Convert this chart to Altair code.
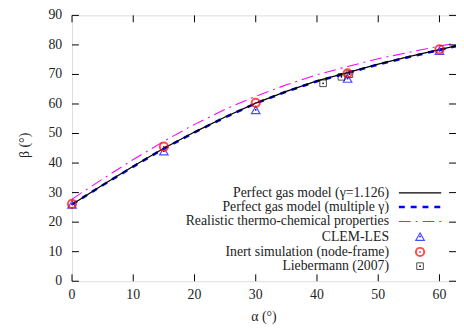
import altair as alt
import pandas as pd

# ---- data ----
alpha_grid = [0, 5, 10, 15, 20, 25, 30, 35, 40, 45, 50, 55, 60, 62.7]
beta_gamma = [26.0, 32.6, 38.9, 45.0, 50.5, 55.6, 60.3, 64.3, 67.8, 70.6, 73.5, 76.0, 78.4, 79.7]
beta_multi = [26.0, 32.5, 38.8, 44.9, 50.4, 55.5, 60.2, 64.2, 67.7, 70.5, 73.4, 75.9, 78.3, 79.6]
beta_real = [27.8, 34.6, 41.2, 47.4, 53.1, 58.2, 62.6, 66.5, 69.9, 72.7, 75.3, 77.5, 79.6, 80.6]

clem_alpha = [0, 15, 30, 45, 60]
clem_beta = [26.0, 44.0, 58.0, 68.6, 78.0]
inert_alpha = [0, 15, 30, 45, 60]
inert_beta = [26.2, 45.6, 60.4, 70.4, 78.5]
lieb_alpha = [41, 44, 45.3]
lieb_beta = [67.0, 69.2, 70.1]

x_ticks = [0, 10, 20, 30, 40, 50, 60]
y_ticks = [0, 10, 20, 30, 40, 50, 60, 70, 80, 90]
x_title = "\u03b1 (\u00b0)"
y_title = "\u03b2 (\u00b0)"

labels = [
    "Perfect gas model (\u03b3=1.126)",
    "Perfect gas model (multiple \u03b3)",
    "Realistic thermo-chemical properties",
    "CLEM-LES",
    "Inert simulation (node-frame)",
    "Liebermann (2007)",
]

W, H = 390, 270
FONT = "Liberation Serif"
FS = 14
TXT = "#222"
XD = [0, 62.7]
YD = [0, 90]

xs = alt.Scale(domain=XD, nice=False, zero=False)
ys = alt.Scale(domain=YD, nice=False)

X = lambda f: alt.X(f, scale=xs, axis=None)
Y = lambda f: alt.Y(f, scale=ys, axis=None)

lines_df = pd.DataFrame({"a": alpha_grid, "g": beta_gamma, "m": beta_multi, "r": beta_real})
base = alt.Chart(lines_df)
black = base.mark_line(color="black", strokeWidth=1.3).encode(x=X("a:Q"), y=Y("g:Q"))
blue = base.mark_line(color="#0000ff", strokeWidth=2.6, strokeDash=[6, 6]).encode(
    x=X("a:Q"), y=Y("m:Q"))
pink = base.mark_line(color="#ff00ff", strokeWidth=1.1, strokeDash=[12, 5, 2, 5]).encode(
    x=X("a:Q"), y=Y("r:Q"))

clem_df = pd.DataFrame({"a": clem_alpha, "b": clem_beta})
inert_df = pd.DataFrame({"a": inert_alpha, "b": inert_beta})
lieb_df = pd.DataFrame({"a": lieb_alpha, "b": lieb_beta})

def pts(df, shape, color, size, sw):
    return alt.Chart(df).mark_point(shape=shape, filled=False, color=color, size=size,
                                    strokeWidth=sw).encode(x=X("a:Q"), y=Y("b:Q"))

def dots(df, color):
    return alt.Chart(df).mark_point(shape="circle", filled=True, color=color, size=3,
                                    opacity=1).encode(x=X("a:Q"), y=Y("b:Q"))

clem = pts(clem_df, "triangle-up", "#0000ff", 75, 1.2)
lieb = pts(lieb_df, "square", "black", 45, 1.0)
inert = pts(inert_df, "circle", "#ff0000", 70, 2.0)
point_layers = [clem, dots(clem_df, "#0000ff"), lieb, dots(lieb_df, "black"), inert, dots(inert_df, "#ff0000")]

# inward ticks on all four sides, tick labels and axis titles
xt = pd.DataFrame({"t": x_ticks, "s": [str(v) for v in x_ticks]})
yt = pd.DataFrame({"t": y_ticks, "s": [str(v) for v in y_ticks]})
TL = 7
axis_layers = [
    alt.Chart(xt).mark_rule(color="black", strokeWidth=1).encode(
        x=X("t:Q"), y=alt.value(H), y2=alt.value(H - TL)),
    alt.Chart(xt).mark_rule(color="black", strokeWidth=1).encode(
        x=X("t:Q"), y=alt.value(0), y2=alt.value(TL)),
    alt.Chart(yt).mark_rule(color="black", strokeWidth=1).encode(
        y=Y("t:Q"), x=alt.value(0), x2=alt.value(TL)),
    alt.Chart(yt).mark_rule(color="black", strokeWidth=1).encode(
        y=Y("t:Q"), x=alt.value(W), x2=alt.value(W - TL)),
    alt.Chart(xt).mark_text(font=FONT, fontSize=FS, color=TXT, align="center",
                            baseline="middle").encode(
        x=X("t:Q"), y=alt.value(H + 14), text="s:N"),
    alt.Chart(yt).mark_text(font=FONT, fontSize=FS, color=TXT, align="right",
                            baseline="middle").encode(
        y=Y("t:Q"), x=alt.value(-10), text="s:N"),
    alt.Chart(pd.DataFrame({"s": [x_title]})).mark_text(
        font=FONT, fontSize=FS, color=TXT, align="center", baseline="middle").encode(
        x=alt.value(W / 2), y=alt.value(H + 36), text="s:N"),
    alt.Chart(pd.DataFrame({"s": [y_title]})).mark_text(
        font=FONT, fontSize=FS, color=TXT, align="center", baseline="middle", angle=270).encode(
        x=alt.value(-48), y=alt.value(132), text="s:N"),
]

# legend (inside, bottom right; label right-aligned, sample to its right)
row_y = [180.3, 194.7, 209.3, 224.7, 240.3, 254.7]
text_x = 322
samp_x0, samp_x1 = 332, 375
mark_x = 353.5
legend_layers = []
for i, lab in enumerate(labels):
    legend_layers.append(
        alt.Chart(pd.DataFrame({"t": [lab]})).mark_text(
            align="right", baseline="middle", font=FONT, fontSize=FS, color=TXT).encode(
            x=alt.value(text_x), y=alt.value(row_y[i]), text="t:N"))
line_styles = [
    dict(color="black", strokeWidth=1.3),
    dict(color="#0000ff", strokeWidth=2.6, strokeDash=[6, 6]),
    dict(color="#ff00ff", strokeWidth=1.1, strokeDash=[12, 5, 2, 5]),
]
for i, st in enumerate(line_styles):
    legend_layers.append(
        alt.Chart(pd.DataFrame({"t": [labels[i]]})).mark_rule(**st).encode(
            x=alt.value(samp_x0), x2=alt.value(samp_x1), y=alt.value(row_y[i])))
mk = [("triangle-up", "#0000ff", 75, 1.2), ("circle", "#ff0000", 70, 2.0), ("square", "black", 45, 1.0)]
for j, (shape, color, size, sw) in enumerate(mk):
    legend_layers.append(
        alt.Chart(pd.DataFrame({"t": [labels[3 + j]]})).mark_point(
            shape=shape, filled=False, color=color, size=size, strokeWidth=sw).encode(
            x=alt.value(mark_x), y=alt.value(row_y[3 + j])))
    legend_layers.append(
        alt.Chart(pd.DataFrame({"t": [labels[3 + j]]})).mark_point(
            shape="circle", filled=True, color=color, size=3, opacity=1).encode(
            x=alt.value(mark_x), y=alt.value(row_y[3 + j])))

chart = alt.layer(pink, blue, black, *point_layers, *axis_layers, *legend_layers).properties(
    width=W, height=H,
    autosize=alt.AutoSizeParams(type="none"),
    padding={"left": 65, "top": 5, "right": 0, "bottom": 44},
).configure_view(stroke="black", strokeWidth=1.5).configure(background="white")

chart.save("out.html", embed_options={"renderer": "svg", "actions": False})
